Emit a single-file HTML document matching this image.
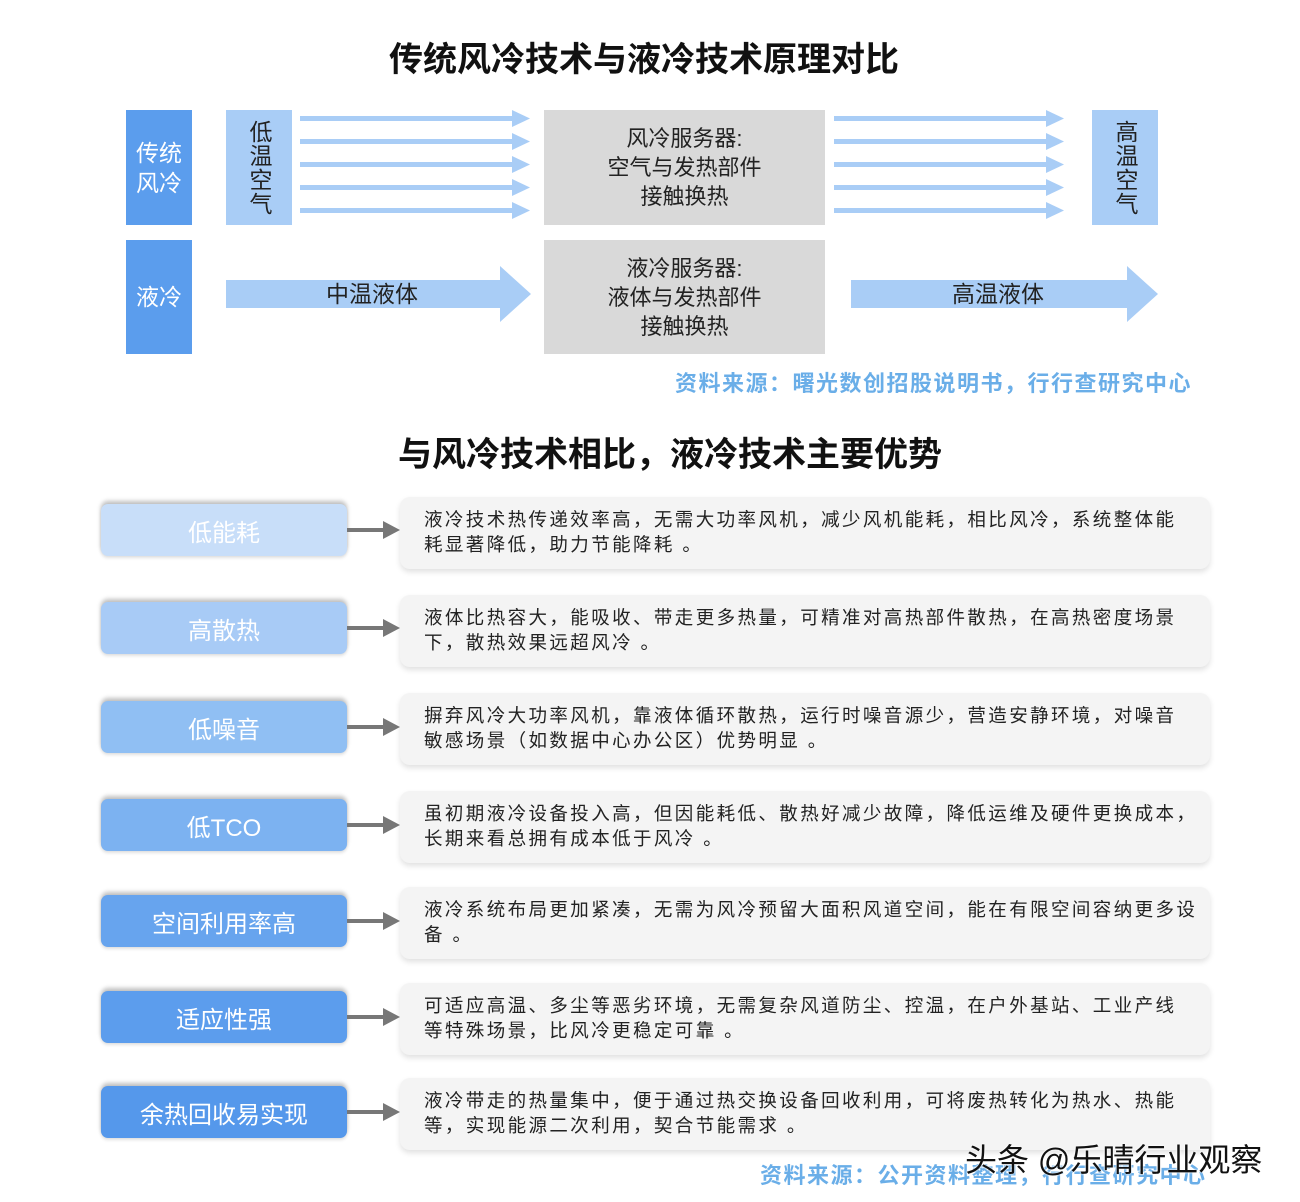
<!DOCTYPE html>
<html><head><meta charset="utf-8"><style>
body{margin:0;width:1300px;height:1202px;background:#fff;position:relative;font-family:"Liberation Sans","Noto Sans CJK SC",sans-serif;overflow:hidden}
.a{position:absolute}
.t{font-weight:bold;font-size:34px;color:#111;text-align:center;width:1300px;left:0}
.blue{background:#5b9ded;color:#fff;font-size:23px;display:flex;align-items:center;justify-content:center;text-align:center;line-height:30px}
.lb{background:#a9cdf6;color:#222;font-size:23px;display:flex;align-items:center;justify-content:center;writing-mode:vertical-rl;letter-spacing:1px}
.gray{background:#d9d9d9;color:#222;font-size:22px;text-align:center;line-height:29px;display:flex;align-items:center;justify-content:center}
.src{color:#6aaee8;font-size:22px;letter-spacing:1.5px;font-weight:bold}
.lab{left:101px;width:246px;height:52px;border-radius:7px;color:#fff;font-size:24px;display:flex;align-items:center;justify-content:center;box-shadow:0 -3px 4px rgba(0,0,0,.25),0 2px 3px rgba(0,0,0,.12)}
.box{left:400px;width:810px;height:72px;border-radius:10px;background:#f4f4f4;box-shadow:0 3px 6px rgba(0,0,0,.12);font-size:18.5px;color:#222;line-height:25px;padding:10px 8px 10px 24px;box-sizing:border-box;letter-spacing:2.4px;white-space:nowrap}
</style></head><body>
<div class="a t" style="top:32px;left:-6px">传统风冷技术与液冷技术原理对比</div>
<div class="a blue" style="left:126px;top:110px;width:66px;height:115px">传统<br>风冷</div>
<div class="a blue" style="left:126px;top:240px;width:66px;height:114px">液冷</div>
<div class="a lb" style="left:226px;top:110px;width:66px;height:115px">低温空气</div>
<div class="a lb" style="left:1092px;top:110px;width:66px;height:115px">高温空气</div>
<div class="a gray" style="left:544px;top:110px;width:281px;height:115px">风冷服务器:<br>空气与发热部件<br>接触换热</div>
<div class="a gray" style="left:544px;top:240px;width:281px;height:114px">液冷服务器:<br>液体与发热部件<br>接触换热</div>
<svg class="a" style="left:0;top:0" width="1300" height="400">
<g fill="#a9cdf6">
<g id="ar"><rect x="300" y="116" width="214" height="5"/><polygon points="512,110 530,118.5 512,127"/></g>
<use href="#ar" y="23"/><use href="#ar" y="46"/><use href="#ar" y="69"/><use href="#ar" y="92"/>
<use href="#ar" x="534"/><use href="#ar" x="534" y="23"/><use href="#ar" x="534" y="46"/><use href="#ar" x="534" y="69"/><use href="#ar" x="534" y="92"/>
<polygon points="226,280 500,280 500,266 531,294 500,322 500,308 226,308"/>
<polygon points="851,280 1127,280 1127,266 1158,294 1127,322 1127,308 851,308"/>
</g>
<text x="372" y="302" font-size="23" text-anchor="middle" fill="#222" font-family="Liberation Sans,Noto Sans CJK SC,sans-serif">中温液体</text>
<text x="998" y="302" font-size="23" text-anchor="middle" fill="#222" font-family="Liberation Sans,Noto Sans CJK SC,sans-serif">高温液体</text>
</svg>
<div class="a src" style="right:108px;top:366px">资料来源：曙光数创招股说明书，行行查研究中心</div>
<div class="a t" style="top:427px;left:20px">与风冷技术相比，液冷技术主要优势</div>

<div class="a lab" style="top:504px;background:#c8def9">低能耗</div>
<div class="a lab" style="top:602px;background:#a8cbf6">高散热</div>
<div class="a lab" style="top:701px;background:#90bff3">低噪音</div>
<div class="a lab" style="top:799px;background:#7cb2f1">低TCO</div>
<div class="a lab" style="top:895px;background:#67a4ee">空间利用率高</div>
<div class="a lab" style="top:991px;background:#5c9ded">适应性强</div>
<div class="a lab" style="top:1086px;background:#5598eb">余热回收易实现</div>

<svg class="a" style="left:0;top:0" width="1300" height="1202">
<g fill="#777">
<g id="g"><rect x="347" y="528" width="40" height="4"/><polygon points="383,521 400,530 383,539"/></g>
<use href="#g" y="98"/><use href="#g" y="197"/><use href="#g" y="295"/><use href="#g" y="391"/><use href="#g" y="487"/><use href="#g" y="582"/>
</g></svg>

<div class="a box" style="top:497px">液冷技术热传递效率高，无需大功率风机，减少风机能耗，相比风冷，系统整体能<br>耗显著降低，助力节能降耗 。</div>
<div class="a box" style="top:595px">液体比热容大，能吸收、带走更多热量，可精准对高热部件散热，在高热密度场景<br>下，散热效果远超风冷 。</div>
<div class="a box" style="top:693px">摒弃风冷大功率风机，靠液体循环散热，运行时噪音源少，营造安静环境，对噪音<br>敏感场景（如数据中心办公区）优势明显 。</div>
<div class="a box" style="top:791px">虽初期液冷设备投入高，但因能耗低、散热好减少故障，降低运维及硬件更换成本，<br>长期来看总拥有成本低于风冷 。</div>
<div class="a box" style="top:887px">液冷系统布局更加紧凑，无需为风冷预留大面积风道空间，能在有限空间容纳更多设<br>备 。</div>
<div class="a box" style="top:983px">可适应高温、多尘等恶劣环境，无需复杂风道防尘、控温，在户外基站、工业产线<br>等特殊场景，比风冷更稳定可靠 。</div>
<div class="a box" style="top:1078px">液冷带走的热量集中，便于通过热交换设备回收利用，可将废热转化为热水、热能<br>等，实现能源二次利用，契合节能需求 。</div>

<div class="a src" style="left:760px;top:1158px">资料来源：公开资料整理，行行查研究中心</div>
<div class="a" style="left:965px;top:1135px;font-size:32px;color:#111;text-shadow:0 0 2px #fff,0 0 2px #fff">头条 @乐晴行业观察</div>
</body></html>
